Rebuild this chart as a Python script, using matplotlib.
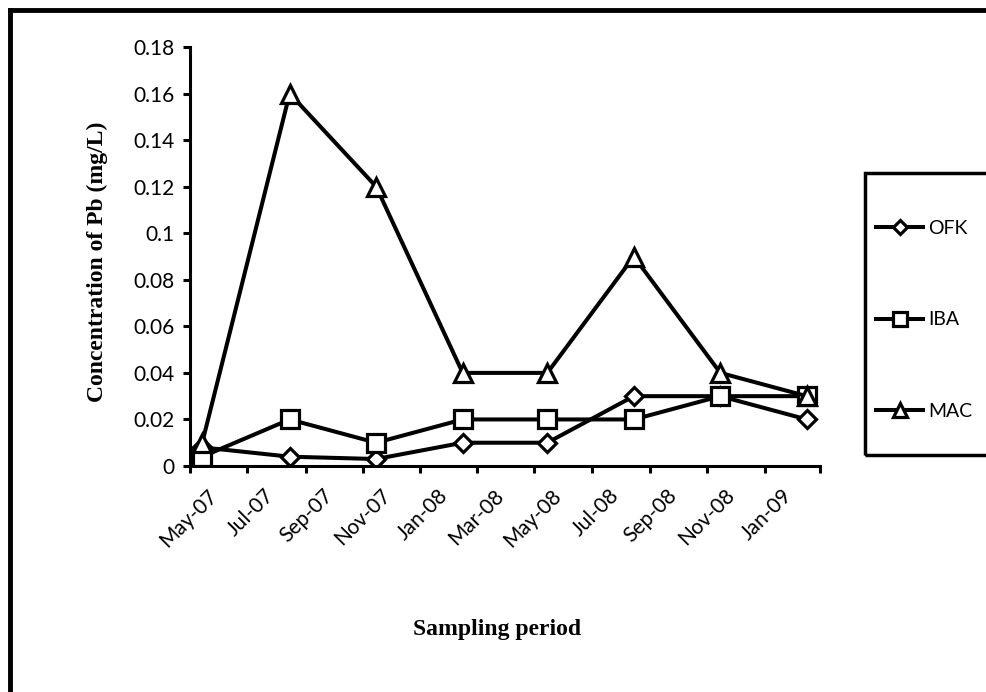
import matplotlib
matplotlib.use("Agg")
import matplotlib.pyplot as plt
import matplotlib.dates as mdates
import matplotlib.transforms as mtransforms
from matplotlib.patches import Rectangle
from matplotlib.lines import Line2D
from matplotlib.ticker import FuncFormatter, MultipleLocator
import datetime as dt

# sampling dates (quarterly)
dates = [dt.date(2007, 5, 14), dt.date(2007, 8, 15), dt.date(2007, 11, 15),
         dt.date(2008, 2, 15), dt.date(2008, 5, 15), dt.date(2008, 8, 15),
         dt.date(2008, 11, 15), dt.date(2009, 2, 15)]
ofk = [0.008, 0.004, 0.003, 0.01, 0.01, 0.03, 0.03, 0.02]
iba = [0.004, 0.02, 0.01, 0.02, 0.02, 0.02, 0.03, 0.03]
mac = [0.01, 0.16, 0.12, 0.04, 0.04, 0.09, 0.04, 0.03]

W, H = 987, 692
fig = plt.figure(figsize=(W / 100, H / 100), dpi=100)
ax = fig.add_axes([190 / W, 1 - 466 / H, (820 - 190) / W, (466 - 47) / H])

lw = 2.9
ax.plot(dates, ofk, color='black', lw=lw, marker='D', ms=9, mfc='white', mec='black', mew=2.3, label='OFK')
ax.plot(dates, iba, color='black', lw=lw, marker='s', ms=12.5, mfc='white', mec='black', mew=2.3, label='IBA')
ax.plot(dates, mac, color='black', lw=lw, marker='^', ms=13, mfc='white', mec='black', mew=2.3, label='MAC')

ax.set_xlim(dt.date(2007, 5, 1), dt.date(2009, 3, 1))
ax.set_ylim(0, 0.18)
ax.yaxis.set_major_locator(MultipleLocator(0.02))
ax.yaxis.set_major_formatter(FuncFormatter(lambda v, p: '%g' % round(v, 2)))
ax.xaxis.set_major_locator(mdates.MonthLocator(bymonth=[1, 3, 5, 7, 9, 11]))

for s in ['top', 'right']:
    ax.spines[s].set_visible(False)
for s in ['left', 'bottom']:
    ax.spines[s].set_linewidth(2.2)
ax.tick_params(direction='out', length=5, width=2.2, labelsize=15, pad=6)
ax.tick_params(axis='x', pad=9)

tick_font = 'Lato'
for lab in ax.get_yticklabels():
    lab.set_fontfamily(tick_font)

# last tick (Mar-09) has no label
ax.set_xticks(ax.get_xticks())
labs = [mdates.num2date(t).strftime('%b-%y') for t in ax.get_xticks()]
labs[-1] = ''
ax.set_xticklabels(labs)
offset = mtransforms.ScaledTranslation(17 / 100, 0, fig.dpi_scale_trans)
for lab in ax.get_xticklabels():
    lab.set_fontfamily(tick_font)
    lab.set_rotation(45)
    lab.set_ha('right')
    lab.set_rotation_mode('anchor')
    lab.set_transform(lab.get_transform() + offset)

fig.text(497 / W, 1 - 630 / H, 'Sampling period', family='Liberation Serif',
         weight='bold', fontsize=17, ha='center', va='center')
fig.text(97 / W, 1 - 262 / H, 'Concentration of Pb (mg/L)', family='Liberation Serif',
         weight='bold', fontsize=17, ha='center', va='center', rotation=90)

# legend
fig.patches.append(Rectangle((865 / W, 1 - 455 / H), 140 / W, (455 - 173) / H,
                             transform=fig.transFigure, fill=False, ec='black', lw=2.5))
leg = fig.legend(loc='upper left', bbox_to_anchor=(859 / W, 1 - 202 / H), frameon=False,
                 prop={'family': tick_font, 'size': 14}, labelspacing=3.85,
                 handlelength=2.4, handletextpad=0.25, markerscale=0.75)

# outer chart border (left and top visible)
fig.add_artist(Line2D([10 / W, 10 / W], [0, 1 - 10 / H], transform=fig.transFigure, color='black', lw=3.5))
fig.add_artist(Line2D([10 / W, 1], [1 - 10 / H, 1 - 10 / H], transform=fig.transFigure, color='black', lw=3.5))

fig.savefig('out.png', dpi=100)
